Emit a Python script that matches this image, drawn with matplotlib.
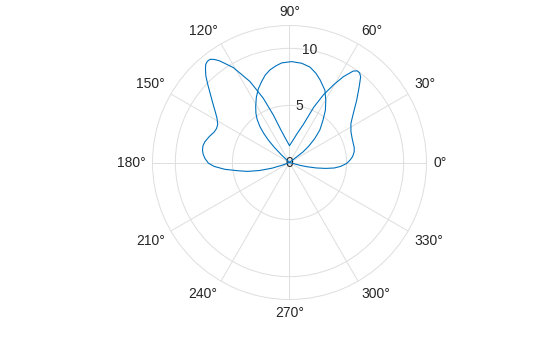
import numpy as np
import matplotlib
matplotlib.use("Agg")
import matplotlib.pyplot as plt

plt.rcParams['font.family'] = ['Liberation Sans', 'DejaVu Sans']

# butterfly-shaped trace (angle in degrees, radius)
wing_theta = [-18, -15.1, -13.7, -11.5, -9.3, -7, -4.3, -1, 2.2, 5.3, 9.5,
              13, 16.7, 21, 26.6, 32.5, 37.6, 42.9, 47.4, 50.3, 52, 53.5,
              55.1, 57.9, 60.5, 63.4, 66.3, 70, 75, 80, 85, 90,
              95, 100, 105, 108.8, 112.2, 116, 120.6, 124.5, 126, 127.5,
              129, 130.5, 132, 134, 136.5, 139, 142.5, 145.5, 148.5, 152,
              155, 158, 162, 166.2, 169, 171.8, 174.5, 177.2, 180.5, 183,
              186, 189, 192, 195, 198, 200.5, 202]
wing_r = [0.0, 0.95, 1.55, 2.4, 3.2, 3.95, 4.5, 5.0, 5.3, 5.55, 5.75,
          5.82, 5.83, 5.88, 6.02, 6.38, 7.06, 8.04, 9.02, 9.76, 9.97, 9.98,
          9.77, 8.87, 7.79, 6.61, 5.3, 3.55, 2.65, 2.07, 1.71, 1.47,
          1.76, 2.2, 3.0, 4.4, 6.08, 7.89, 9.66, 10.8, 11.15, 11.4,
          11.42, 11.3, 11.0, 10.55, 9.85, 9.2, 8.45, 7.9, 7.45, 7.12,
          7.05, 7.12, 7.38, 7.63, 7.72, 7.70, 7.6, 7.42, 7.1, 6.6,
          5.7, 4.6, 3.75, 2.7, 1.6, 0.6, 0.0]

# inner loop
loop_theta = [35, 38, 40.5, 43.5, 47, 51.5, 55.5, 59.7, 63.9, 69.7, 73.5,
              77.9, 83, 88.8, 94.5, 98, 101.9, 105.5, 109, 113, 117, 119,
              121, 124.3, 127, 129.5, 131.5, 133.3, 135, 136.5, 138.5]
loop_r = [0.0, 1.5, 2.25, 3.05, 3.9, 4.7, 5.55, 6.3, 7.05, 7.72, 8.15,
          8.55, 8.76, 8.84, 8.75, 8.55, 8.29, 7.95, 7.5, 7.0, 6.4, 6.05,
          5.75, 5.22, 4.7, 4.07, 3.4, 2.71, 1.9, 1.0, 0.0]

r_ticks = [0, 5, 10]
theta_ticks = list(range(0, 360, 30))
theta_labels = [f"{t}°" for t in theta_ticks]

fig = plt.figure(figsize=(5.6, 3.37), dpi=100)
ax = fig.add_axes([0.2723, 0.1113, 0.4893, 0.813], projection='polar')

line_col = '#0072bd'
ax.plot(np.deg2rad(wing_theta), wing_r, color=line_col, lw=0.8)
ax.plot(np.deg2rad(loop_theta), loop_r, color=line_col, lw=0.8)

ax.set_rlim(0, 12)
ax.set_rgrids(r_ticks, labels=[str(v) for v in r_ticks], angle=80)
ax.set_thetagrids(theta_ticks, labels=theta_labels)

grid_col = '#dedede'
ax.grid(True, color=grid_col, lw=0.7)
ax.spines['polar'].set_color(grid_col)
ax.spines['polar'].set_linewidth(0.7)
ax.tick_params(axis='x', pad=-2, length=0, labelsize=10, colors='#262626')
ax.tick_params(axis='y', labelsize=10, colors='#262626', pad=0)
for lbl in ax.get_yticklabels():
    lbl.set_ha('center')
    lbl.set_va('center')

# MATLAB-like placement: align each angle label away from the circle
for t, lbl in zip(theta_ticks, ax.get_xticklabels()):
    c, s = np.cos(np.deg2rad(t)), np.sin(np.deg2rad(t))
    lbl.set_ha('left' if c > 0.01 else ('right' if c < -0.01 else 'center'))
    lbl.set_va('bottom' if s > 0.01 else ('top' if s < -0.01 else 'center'))

fig.savefig('out.png', dpi=100)
